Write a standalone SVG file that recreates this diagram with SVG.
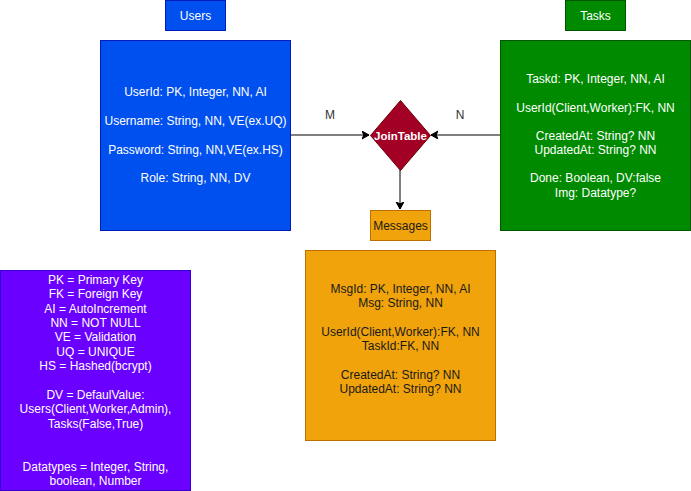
<svg xmlns="http://www.w3.org/2000/svg" width="691" height="491" viewBox="0 0 691 491">
<style>
text{font-family:"Liberation Sans",Arial,Helvetica,sans-serif;font-size:12px;text-anchor:middle}
.w{fill:#ffffff}
.k{fill:#1a1a1a}
.blue{fill:#0050EF;stroke:#001DBC}
.green{fill:#008A00;stroke:#005700}
.purple{fill:#6A00FF;stroke:#3700CC}
.orange{fill:#F0A30A;stroke:#BD7000}
.red{fill:#A20025;stroke:#6F0000}
.edge{stroke:#000;stroke-width:1;fill:none}
</style>
<defs>
<marker id="arr" markerWidth="10" markerHeight="10" refX="7" refY="4" orient="auto" markerUnits="userSpaceOnUse">
<path d="M0,0 L7,4 L0,8 L1.8,4 Z" fill="#000" stroke="#000" stroke-width="1"/>
</marker>
</defs>
<g id="connectors">
<path class="edge" d="M290,135 L369,135" marker-end="url(#arr)"/>
<path class="edge" d="M500,135 L431,135" marker-end="url(#arr)"/>
<path class="edge" d="M400,170 L400,209" marker-end="url(#arr)"/>
<text x="330" y="118.5" fill="#333333">M</text>
<text x="460" y="118.5" fill="#333333">N</text>
</g>
<g id="users-label">
<rect class="blue" x="165.5" y="0.5" width="60" height="30"/>
<text class="w" x="195.5" y="19.5">Users</text>
</g>
<g id="users">
<rect class="blue" x="100.5" y="40.5" width="190" height="190"/>
<text class="w" x="195.5" y="96">UserId: PK, Integer, NN, AI</text>
<text class="w" x="195.5" y="124.5">Username: String, NN, VE(ex.UQ)</text>
<text class="w" x="195.5" y="153.5">Password: String, NN,VE(ex.HS)</text>
<text class="w" x="195.5" y="182">Role: String, NN, DV</text>
</g>
<g id="tasks-label">
<rect class="green" x="565.5" y="0.5" width="60" height="30"/>
<text class="w" x="595.5" y="19.5">Tasks</text>
</g>
<g id="tasks">
<rect class="green" x="500.5" y="40.5" width="190" height="190"/>
<text class="w" x="595.5" y="82.5">Taskd: PK, Integer, NN, AI</text>
<text class="w" x="595.5" y="111.5">UserId(Client,Worker):FK, NN</text>
<text class="w" x="595.5" y="139.5">CreatedAt: String? NN</text>
<text class="w" x="595.5" y="154">UpdatedAt: String? NN</text>
<text class="w" x="595.5" y="182">Done: Boolean, DV:false</text>
<text class="w" x="595.5" y="196.5">Img: Datatype?</text>
</g>
<g id="jointable">
<path class="red" d="M400.5,100.5 L430.5,135.5 L400.5,170.5 L370.5,135.5 Z"/>
<text class="w" x="400.5" y="139.5" style="font-weight:bold;font-size:11.5px">JoinTable</text>
</g>
<g id="messages-label">
<rect class="orange" x="370.5" y="210.5" width="60" height="30"/>
<text class="k" x="400.5" y="229.5">Messages</text>
</g>
<g id="messages">
<rect class="orange" x="305.5" y="250.5" width="190" height="190"/>
<text class="k" x="400.5" y="292.5">MsgId: PK, Integer, NN, AI</text>
<text class="k" x="400.5" y="307">Msg: String, NN</text>
<text class="k" x="400.5" y="335.5">UserId(Client,Worker):FK, NN</text>
<text class="k" x="400.5" y="350">TaskId:FK, NN</text>
<text class="k" x="400.5" y="378.5">CreatedAt: String? NN</text>
<text class="k" x="400.5" y="393">UpdatedAt: String? NN</text>
</g>
<g id="legend">
<rect class="purple" x="0.5" y="270.5" width="190" height="220"/>
<text class="w" x="95.5" y="283.5">PK = Primary Key</text>
<text class="w" x="95.5" y="298">FK = Foreign Key</text>
<text class="w" x="95.5" y="312.5">AI = AutoIncrement</text>
<text class="w" x="95.5" y="326.5">NN = NOT NULL</text>
<text class="w" x="95.5" y="341">VE = Validation</text>
<text class="w" x="95.5" y="355.5">UQ = UNIQUE</text>
<text class="w" x="95.5" y="369.5">HS = Hashed(bcrypt)</text>
<text class="w" x="95.5" y="398.5">DV = DefaulValue:</text>
<text class="w" x="95.5" y="413">Users(Client,Worker,Admin),</text>
<text class="w" x="95.5" y="427.5">Tasks(False,True)</text>
<text class="w" x="95.5" y="470.5">Datatypes = Integer, String,</text>
<text class="w" x="95.5" y="485">boolean, Number</text>
</g>
</svg>
